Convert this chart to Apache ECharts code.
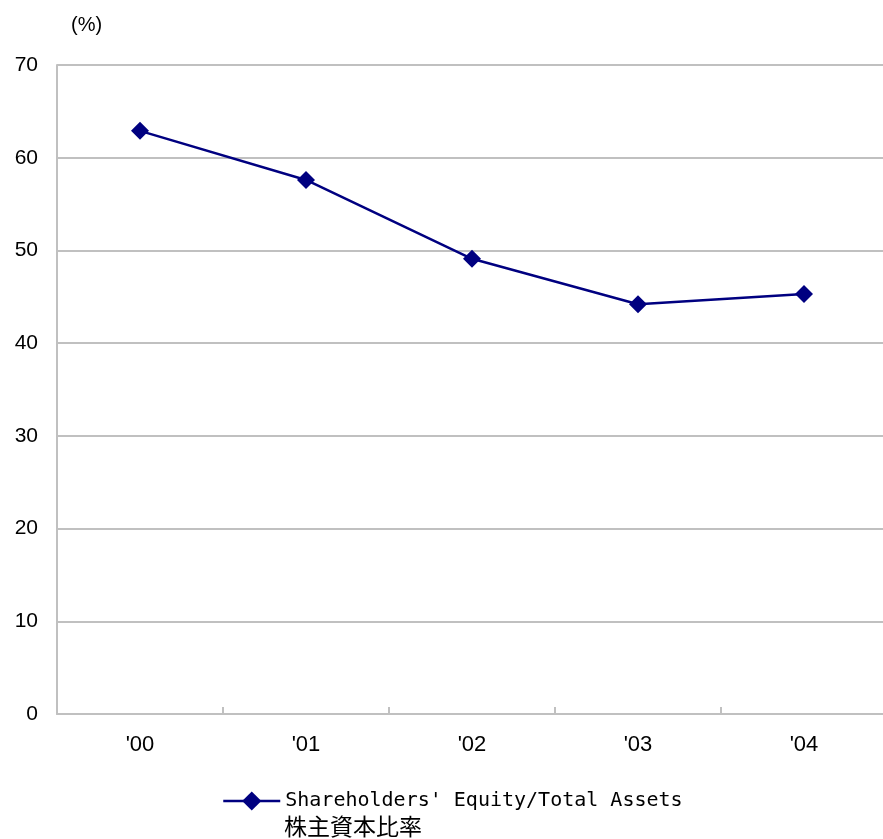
<!DOCTYPE html>
<html><head><meta charset="utf-8">
<script src="https://cdn.jsdelivr.net/npm/echarts@6/dist/echarts.min.js"></script>
<style>html,body{margin:0;padding:0;background:#fff;overflow:hidden}#c{width:888px;height:839px}</style>
</head><body><div id="c"></div>
<script>
const categories = ["'00", "'01", "'02", "'03", "'04"];
const equityRatio = [62.9, 57.6, 49.1, 44.2, 45.3];
const yTicks = [0, 10, 20, 30, 40, 50, 60, 70];
const seriesNameEn = "Shareholders' Equity/Total Assets";
const seriesNameJa = "株主資本比率";
const unitLabel = "(%)";

const chart = echarts.init(document.getElementById('c'), null, {renderer: 'canvas'});
chart.setOption({
  animation: false,
  backgroundColor: '#fff',
  grid: {left: 57, top: 65, right: 1, bottom: 125, containLabel: false},
  xAxis: {
    type: 'category', data: categories, boundaryGap: true,
    axisLine: {lineStyle: {color: '#c0c0c0', width: 2}},
    axisTick: {show: true, inside: true, length: 7, lineStyle: {color: '#c0c0c0', width: 2}},
    axisLabel: {color: '#000', fontFamily: 'Liberation Sans', fontSize: 22, margin: 20},
    splitLine: {show: false}
  },
  yAxis: {
    type: 'value', min: yTicks[0], max: yTicks[yTicks.length - 1], interval: 10,
    axisLine: {show: true, lineStyle: {color: '#c0c0c0', width: 2}},
    axisTick: {show: false},
    axisLabel: {color: '#000', fontFamily: 'Liberation Sans', fontSize: 21, margin: 19},
    splitLine: {show: true, lineStyle: {color: '#c0c0c0', width: 2}}
  },
  legend: {
    show: true, left: 222, top: 791, padding: 0, itemWidth: 57, itemHeight: 24, itemGap: 0, itemTextGap: 5,
    data: [seriesNameEn],
    lineStyle: {width: 2.5},
    textStyle: {color: '#000', fontFamily: 'DejaVu Sans Mono', fontSize: 20}
  },
  graphic: [
    {type: 'text', left: 71, top: 15, style: {text: unitLabel, fill: '#000', font: '20px "Liberation Sans"'}},
    {type: 'text', left: 284, top: 815, style: {text: seriesNameJa, fill: '#000', font: '23px "Noto Sans CJK JP"'}}
  ],
  series: [{
    name: seriesNameEn, type: 'line', data: equityRatio,
    symbol: 'diamond', symbolSize: 18,
    lineStyle: {color: '#000080', width: 2.5},
    itemStyle: {color: '#000080'}
  }]
});
</script></body></html>
